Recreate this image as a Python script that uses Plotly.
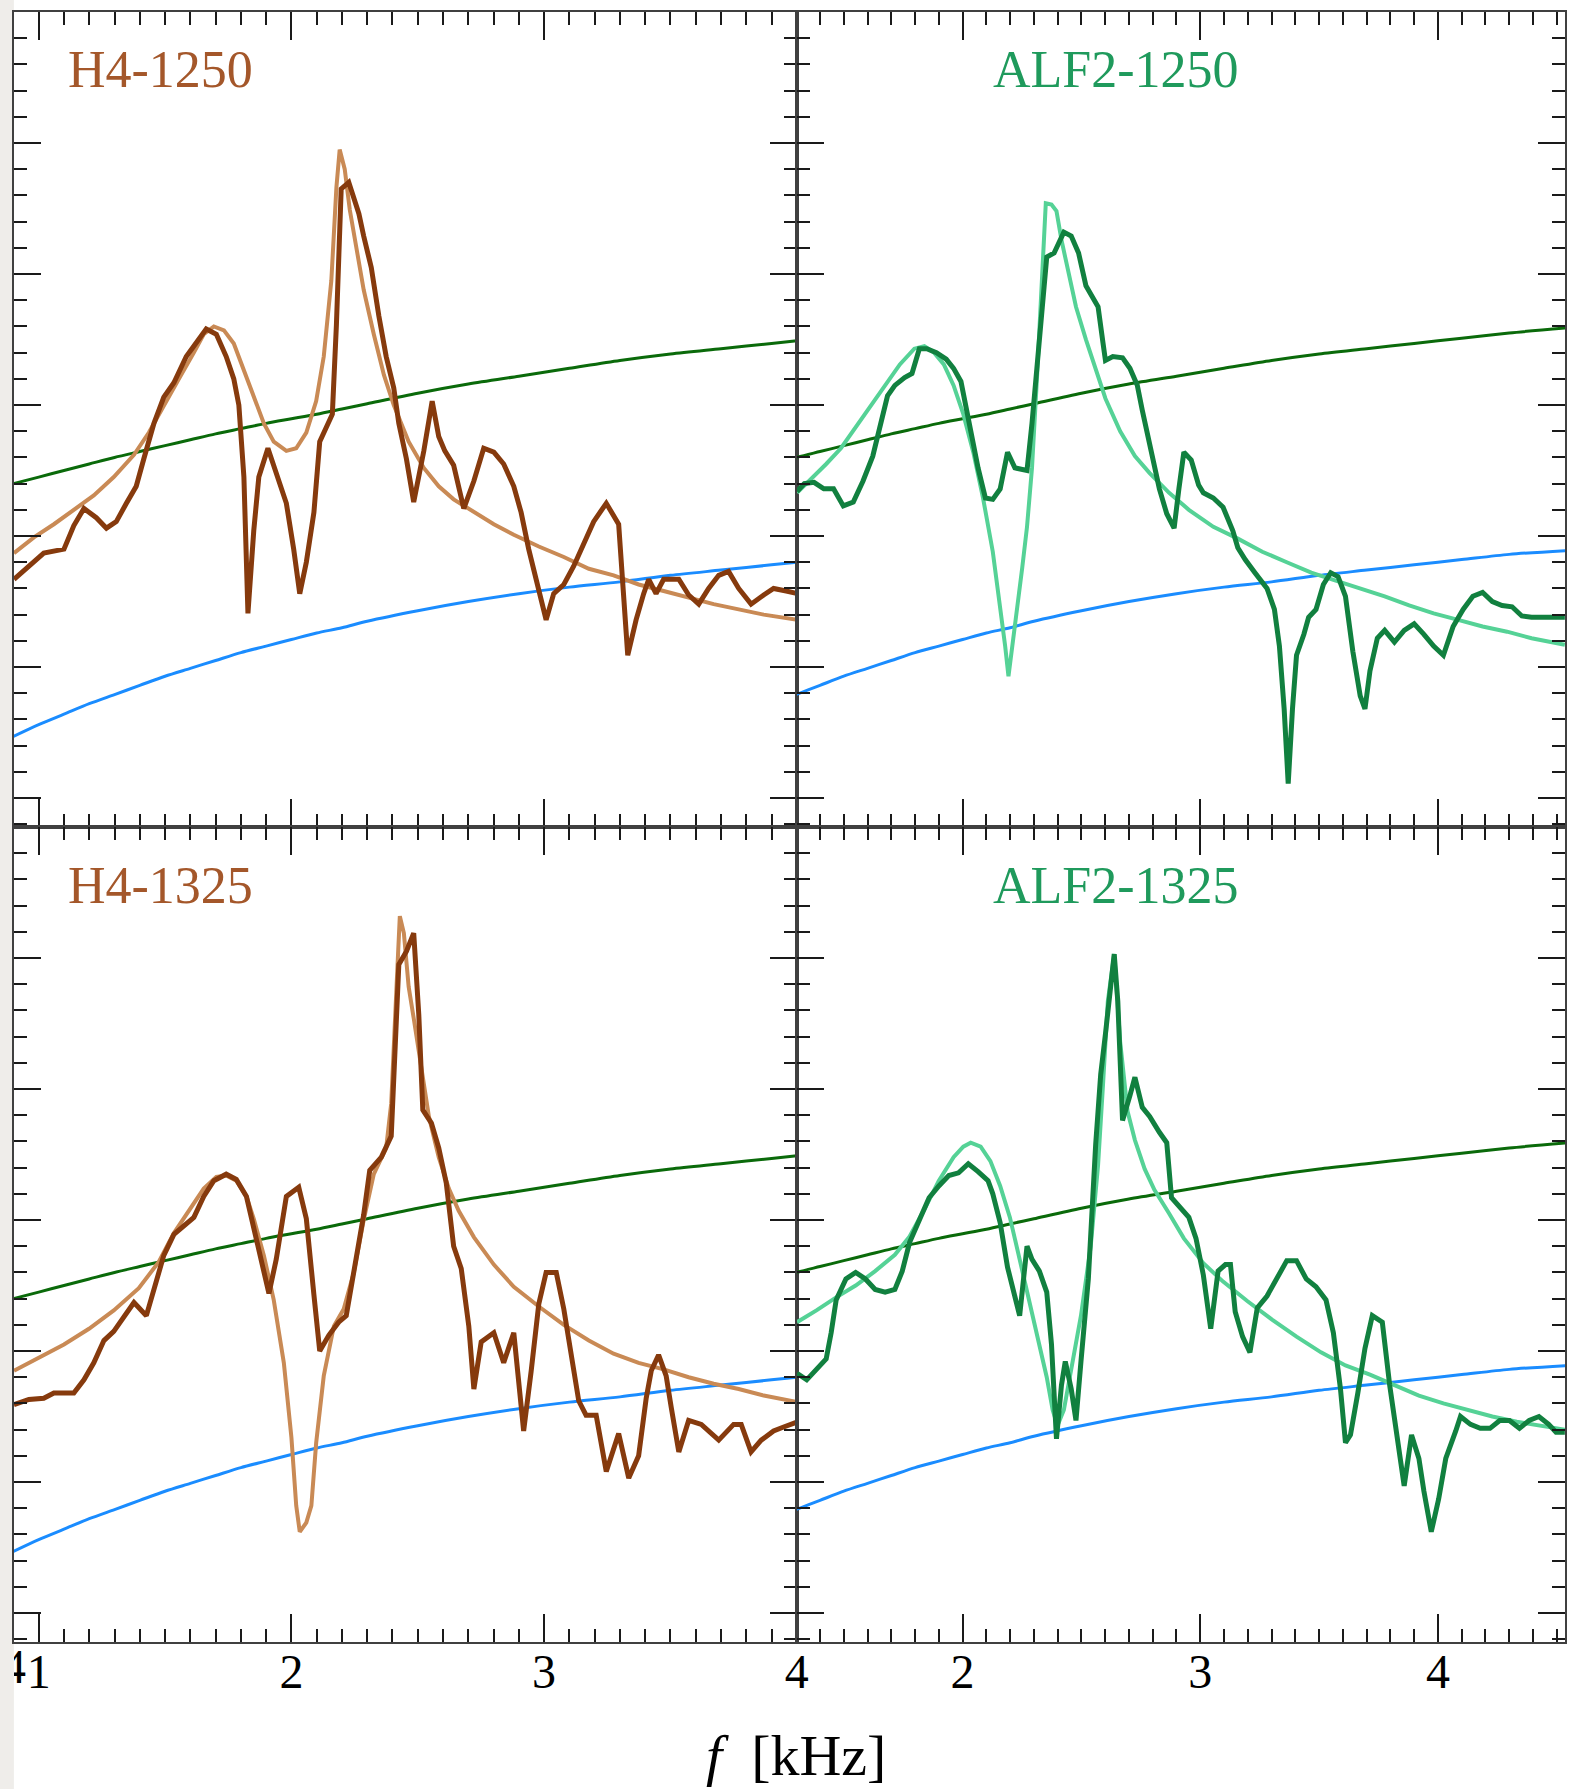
import plotly.graph_objects as go

FONT = "Liberation Serif"
W, H = 1577, 1789

# ---------------------------------------------------------------------------
# Reference curves shared by every panel (frequency in kHz, level in decades)
# ---------------------------------------------------------------------------
CURVE_F = [0.90, 1.00, 1.10, 1.20, 1.30, 1.40, 1.50, 1.60, 1.70, 1.80, 1.90, 2.00,
           2.10, 2.20, 2.30, 2.50, 2.70, 2.90, 3.10, 3.30, 3.50, 3.70, 3.90, 4.10,
           4.30, 4.55]
GREEN_LEVEL = [2.40, 2.45, 2.50, 2.55, 2.60, 2.645, 2.69, 2.735, 2.78, 2.82, 2.86, 2.895,
               2.93, 2.97, 3.01, 3.09, 3.16, 3.22, 3.28, 3.34, 3.39, 3.43, 3.47, 3.51,
               3.55, 3.59]
BLUE_LEVEL = [0.47, 0.56, 0.64, 0.72, 0.79, 0.86, 0.93, 0.99, 1.05, 1.11, 1.16, 1.21,
              1.26, 1.30, 1.35, 1.43, 1.50, 1.56, 1.61, 1.65, 1.70, 1.74, 1.78, 1.82,
              1.86, 1.89]

# ---------------------------------------------------------------------------
# H4-1250
# ---------------------------------------------------------------------------
H4_1250_F = [0.902, 0.961, 1.020, 1.100, 1.139, 1.179, 1.228, 1.268, 1.307, 1.347, 1.386,
             1.416, 1.456, 1.495, 1.535, 1.584, 1.624, 1.663, 1.703, 1.742, 1.772, 1.792,
             1.812, 1.828, 1.851, 1.871, 1.907, 1.940, 1.980, 2.009, 2.033, 2.059, 2.089,
             2.112, 2.148, 2.162, 2.178, 2.197, 2.227, 2.267, 2.286, 2.316, 2.346, 2.375,
             2.405, 2.425, 2.455, 2.484, 2.524, 2.557, 2.583, 2.607, 2.642, 2.682, 2.722,
             2.761, 2.801, 2.840, 2.880, 2.909, 2.939, 2.979, 3.008, 3.038, 3.078, 3.117,
             3.157, 3.196, 3.246, 3.295, 3.331, 3.364, 3.394, 3.414, 3.443, 3.473, 3.533,
             3.572, 3.612, 3.651, 3.691, 3.730, 3.770, 3.819, 3.869, 3.908, 3.958, 4.003]
H4_1250_PSD = [1.67, 1.77, 1.87, 1.90, 2.08, 2.21, 2.14, 2.06, 2.11, 2.25, 2.38,
               2.59, 2.86, 3.06, 3.17, 3.37, 3.47, 3.58, 3.54, 3.37, 3.20, 3.00,
               2.45, 1.41, 2.04, 2.45, 2.67, 2.48, 2.25, 1.90, 1.56, 1.80, 2.18,
               2.72, 2.86, 2.93, 3.61, 4.65, 4.70, 4.46, 4.29, 4.05, 3.68, 3.37,
               3.13, 2.86, 2.59, 2.26, 2.65, 3.03, 2.76, 2.65, 2.54, 2.21, 2.42,
               2.67, 2.64, 2.55, 2.38, 2.18, 1.90, 1.60, 1.36, 1.56, 1.63, 1.77,
               1.94, 2.11, 2.25, 2.09, 1.09, 1.36, 1.56, 1.67, 1.56, 1.67, 1.67,
               1.55, 1.48, 1.60, 1.70, 1.73, 1.60, 1.48, 1.55, 1.60, 1.58, 1.56]
H4_1250_FIT_F = [0.902, 0.981, 1.060, 1.139, 1.218, 1.297, 1.377, 1.436, 1.495, 1.555,
                 1.614, 1.653, 1.693, 1.733, 1.772, 1.812, 1.851, 1.891, 1.930, 1.980,
                 2.019, 2.059, 2.098, 2.128, 2.158, 2.178, 2.191, 2.211, 2.231, 2.257,
                 2.286, 2.326, 2.366, 2.405, 2.464, 2.524, 2.583, 2.642, 2.722, 2.801,
                 2.880, 2.979, 3.078, 3.177, 3.275, 3.374, 3.473, 3.572, 3.671, 3.770,
                 3.869, 4.003]
H4_1250_FIT = [1.87, 1.99, 2.09, 2.20, 2.31, 2.45, 2.62, 2.79, 3.00, 3.20,
               3.40, 3.54, 3.60, 3.57, 3.47, 3.27, 3.06, 2.86, 2.72, 2.65,
               2.67, 2.79, 3.03, 3.37, 3.95, 4.66, 4.95, 4.80, 4.49, 4.19,
               3.88, 3.54, 3.23, 3.00, 2.72, 2.52, 2.38, 2.28, 2.18, 2.09,
               2.01, 1.92, 1.84, 1.75, 1.70, 1.63, 1.58, 1.53, 1.48, 1.44,
               1.40, 1.36]

# ---------------------------------------------------------------------------
# ALF2-1250
# ---------------------------------------------------------------------------
ALF2_1250_F = [1.303, 1.334, 1.375, 1.416, 1.457, 1.498, 1.540, 1.581, 1.622, 1.653, 1.684,
               1.715, 1.756, 1.787, 1.818, 1.849, 1.890, 1.931, 1.962, 1.993, 2.014, 2.034,
               2.065, 2.096, 2.127, 2.158, 2.189, 2.220, 2.271, 2.292, 2.323, 2.354, 2.385,
               2.426, 2.457, 2.488, 2.519, 2.550, 2.570, 2.591, 2.601, 2.632, 2.673, 2.704,
               2.735, 2.756, 2.787, 2.828, 2.859, 2.890, 2.910, 2.931, 2.962, 2.993, 3.013,
               3.055, 3.096, 3.137, 3.158, 3.189, 3.230, 3.281, 3.312, 3.333, 3.353, 3.370,
               3.388, 3.405, 3.436, 3.456, 3.487, 3.518, 3.549, 3.580, 3.611, 3.642, 3.673,
               3.693, 3.714, 3.745, 3.776, 3.817, 3.858, 3.900, 3.941, 3.982, 4.023, 4.064,
               4.106, 4.147, 4.188, 4.229, 4.270, 4.312, 4.353, 4.394, 4.456, 4.534]
ALF2_1250_PSD = [2.34, 2.40, 2.41, 2.36, 2.36, 2.23, 2.26, 2.42, 2.61, 2.83, 3.07,
                 3.15, 3.21, 3.24, 3.43, 3.43, 3.40, 3.35, 3.28, 3.18, 2.99, 2.77,
                 2.52, 2.29, 2.28, 2.36, 2.64, 2.52, 2.50, 2.86, 3.53, 4.13, 4.16,
                 4.32, 4.29, 4.16, 3.91, 3.80, 3.75, 3.47, 3.34, 3.37, 3.36, 3.28,
                 3.15, 2.96, 2.71, 2.36, 2.17, 2.06, 2.36, 2.64, 2.58, 2.39, 2.33,
                 2.29, 2.22, 2.04, 1.91, 1.82, 1.72, 1.60, 1.44, 1.16, 0.68, 0.11,
                 0.68, 1.09, 1.25, 1.38, 1.44, 1.63, 1.72, 1.69, 1.54, 1.12, 0.78,
                 0.68, 0.97, 1.22, 1.28, 1.19, 1.28, 1.33, 1.25, 1.16, 1.09, 1.31,
                 1.44, 1.54, 1.57, 1.50, 1.47, 1.46, 1.39, 1.38, 1.38, 1.38]
ALF2_1250_FIT_F = [1.303, 1.365, 1.426, 1.488, 1.550, 1.612, 1.674, 1.736, 1.797, 1.839,
                   1.880, 1.921, 1.962, 2.003, 2.045, 2.086, 2.127, 2.158, 2.179, 2.193,
                   2.210, 2.230, 2.251, 2.271, 2.292, 2.313, 2.333, 2.350, 2.374, 2.395,
                   2.416, 2.447, 2.477, 2.519, 2.560, 2.601, 2.663, 2.725, 2.787, 2.869,
                   2.952, 3.055, 3.158, 3.261, 3.364, 3.467, 3.570, 3.673, 3.776, 3.879,
                   3.982, 4.085, 4.188, 4.291, 4.394, 4.534]
ALF2_1250_FIT = [2.33, 2.44, 2.55, 2.67, 2.83, 2.99, 3.15, 3.31, 3.43, 3.45,
                 3.40, 3.31, 3.15, 2.93, 2.64, 2.29, 1.88, 1.47, 1.16, 0.93,
                 1.16, 1.47, 1.76, 2.07, 2.52, 3.21, 4.00, 4.54, 4.53, 4.48,
                 4.26, 4.00, 3.75, 3.50, 3.28, 3.05, 2.80, 2.61, 2.48, 2.33,
                 2.20, 2.07, 1.98, 1.88, 1.80, 1.72, 1.66, 1.60, 1.54, 1.47,
                 1.41, 1.36, 1.31, 1.27, 1.22, 1.17]

# ---------------------------------------------------------------------------
# H4-1325
# ---------------------------------------------------------------------------
H4_1325_F = [0.902, 0.961, 1.020, 1.060, 1.139, 1.179, 1.218, 1.258, 1.297, 1.337, 1.377,
             1.426, 1.456, 1.495, 1.535, 1.574, 1.614, 1.653, 1.693, 1.742, 1.782, 1.822,
             1.851, 1.881, 1.911, 1.940, 1.980, 2.029, 2.059, 2.089, 2.112, 2.148, 2.187,
             2.217, 2.247, 2.286, 2.310, 2.356, 2.395, 2.425, 2.455, 2.484, 2.504, 2.520,
             2.554, 2.583, 2.613, 2.642, 2.672, 2.702, 2.722, 2.751, 2.801, 2.840, 2.880,
             2.919, 2.949, 2.979, 3.008, 3.048, 3.078, 3.107, 3.137, 3.166, 3.206, 3.246,
             3.295, 3.335, 3.374, 3.404, 3.424, 3.453, 3.483, 3.503, 3.533, 3.572, 3.622,
             3.691, 3.750, 3.780, 3.819, 3.859, 3.908, 3.948, 4.003]
H4_1325_PSD = [1.59, 1.63, 1.64, 1.68, 1.68, 1.78, 1.91, 2.08, 2.15, 2.26, 2.37,
               2.27, 2.46, 2.73, 2.89, 2.95, 3.02, 3.18, 3.30, 3.35, 3.31, 3.18,
               2.94, 2.70, 2.44, 2.70, 3.18, 3.25, 3.01, 2.43, 2.00, 2.12, 2.22,
               2.27, 2.60, 3.04, 3.38, 3.48, 3.64, 4.95, 5.05, 5.19, 4.57, 3.84,
               3.74, 3.55, 3.28, 2.80, 2.63, 2.19, 1.71, 2.07, 2.14, 1.91, 2.14,
               1.39, 1.85, 2.36, 2.60, 2.60, 2.32, 1.98, 1.62, 1.51, 1.51, 1.08,
               1.37, 1.03, 1.20, 1.64, 1.85, 1.97, 1.81, 1.57, 1.23, 1.47, 1.44,
               1.32, 1.44, 1.44, 1.23, 1.32, 1.39, 1.42, 1.46]
H4_1325_FIT_F = [0.902, 1.001, 1.100, 1.199, 1.297, 1.396, 1.475, 1.535, 1.594, 1.653,
                 1.703, 1.742, 1.782, 1.822, 1.851, 1.891, 1.930, 1.970, 2.000, 2.019,
                 2.033, 2.059, 2.079, 2.098, 2.128, 2.168, 2.207, 2.247, 2.286, 2.326,
                 2.375, 2.395, 2.415, 2.429, 2.445, 2.464, 2.484, 2.508, 2.544, 2.583,
                 2.623, 2.662, 2.722, 2.801, 2.880, 2.979, 3.078, 3.177, 3.275, 3.374,
                 3.473, 3.572, 3.671, 3.770, 3.869, 4.003]
H4_1325_FIT = [1.85, 1.95, 2.05, 2.17, 2.31, 2.48, 2.68, 2.90, 3.07, 3.24,
               3.33, 3.34, 3.30, 3.18, 3.01, 2.73, 2.39, 1.91, 1.34, 0.82,
               0.62, 0.69, 0.82, 1.30, 1.81, 2.19, 2.32, 2.60, 3.00, 3.35,
               3.55, 3.89, 4.74, 5.32, 5.19, 4.78, 4.54, 4.23, 3.79, 3.48,
               3.24, 3.07, 2.87, 2.66, 2.49, 2.34, 2.20, 2.08, 1.98, 1.91,
               1.86, 1.80, 1.75, 1.71, 1.66, 1.61]

# ---------------------------------------------------------------------------
# ALF2-1325
# ---------------------------------------------------------------------------
ALF2_1325_F = [1.303, 1.344, 1.385, 1.426, 1.447, 1.468, 1.509, 1.550, 1.591, 1.632, 1.674,
               1.715, 1.746, 1.777, 1.818, 1.859, 1.900, 1.942, 1.983, 2.024, 2.065, 2.107,
               2.127, 2.158, 2.189, 2.220, 2.240, 2.271, 2.292, 2.323, 2.354, 2.374, 2.395,
               2.416, 2.432, 2.457, 2.477, 2.498, 2.529, 2.560, 2.581, 2.601, 2.622, 2.638,
               2.653, 2.673, 2.704, 2.725, 2.756, 2.787, 2.828, 2.859, 2.879, 2.910, 2.952,
               2.982, 3.013, 3.044, 3.075, 3.106, 3.127, 3.147, 3.178, 3.209, 3.240, 3.281,
               3.322, 3.364, 3.405, 3.446, 3.487, 3.529, 3.560, 3.590, 3.611, 3.632, 3.663,
               3.693, 3.724, 3.766, 3.797, 3.827, 3.858, 3.889, 3.920, 3.941, 3.972, 4.003,
               4.033, 4.075, 4.095, 4.137, 4.178, 4.219, 4.260, 4.301, 4.343, 4.384, 4.425,
               4.466, 4.497, 4.534]
ALF2_1325_PSD = [1.83, 1.78, 1.86, 1.94, 2.14, 2.39, 2.55, 2.60, 2.55, 2.47, 2.45,
                 2.47, 2.61, 2.83, 3.00, 3.17, 3.26, 3.34, 3.36, 3.43, 3.37, 3.30,
                 3.20, 2.98, 2.64, 2.39, 2.27, 2.80, 2.70, 2.61, 2.45, 2.05, 1.33,
                 1.74, 1.92, 1.71, 1.47, 1.92, 2.55, 3.58, 4.11, 4.42, 4.76, 5.03,
                 4.67, 3.76, 3.95, 4.09, 3.86, 3.79, 3.67, 3.59, 3.17, 3.11, 3.02,
                 2.86, 2.58, 2.17, 2.61, 2.66, 2.66, 2.30, 2.11, 1.99, 2.33, 2.42,
                 2.55, 2.69, 2.69, 2.55, 2.49, 2.39, 2.14, 1.71, 1.30, 1.36, 1.68,
                 2.02, 2.27, 2.22, 1.74, 1.36, 0.97, 1.36, 1.18, 0.93, 0.62, 0.87,
                 1.18, 1.39, 1.50, 1.44, 1.41, 1.41, 1.47, 1.47, 1.41, 1.47, 1.50,
                 1.44, 1.38, 1.38]
ALF2_1325_FIT_F = [1.303, 1.385, 1.468, 1.550, 1.632, 1.715, 1.777, 1.839, 1.900, 1.962,
                   2.003, 2.034, 2.076, 2.117, 2.158, 2.199, 2.240, 2.271, 2.313, 2.354,
                   2.379, 2.399, 2.426, 2.457, 2.498, 2.539, 2.570, 2.591, 2.611, 2.638,
                   2.663, 2.694, 2.725, 2.766, 2.807, 2.869, 2.931, 3.013, 3.096, 3.199,
                   3.302, 3.405, 3.508, 3.611, 3.714, 3.817, 3.920, 4.023, 4.126, 4.229,
                   4.332, 4.435, 4.534]
ALF2_1325_FIT = [2.22, 2.31, 2.41, 2.50, 2.61, 2.735, 2.875, 3.08, 3.30, 3.48,
                 3.56, 3.59, 3.56, 3.45, 3.26, 3.02, 2.70, 2.45, 2.14, 1.80,
                 1.55, 1.43, 1.55, 1.86, 2.27, 2.80, 3.42, 4.04, 4.67, 5.03,
                 4.36, 3.83, 3.61, 3.39, 3.23, 3.05, 2.86, 2.67, 2.53, 2.38,
                 2.24, 2.11, 1.99, 1.89, 1.82, 1.74, 1.66, 1.60, 1.55, 1.50,
                 1.46, 1.43, 1.40]

# ---------------------------------------------------------------------------
# Styling
# ---------------------------------------------------------------------------
BROWN_DATA, BROWN_FIT, BROWN_TEXT = "#863a0d", "#c98a55", "#a4572a"
GREEN_DATA, GREEN_FIT, GREEN_TEXT = "#11803f", "#55d296", "#1f9a5c"
SENS_GREEN, SENS_BLUE = "#0a6a0a", "#1a8cff"

# figure-pixel layout of the 2x2 grid
X_LEFT, X_MID, X_RIGHT = 14, 803, 1577
Y_TOP, Y_MID, Y_BOT = 12, 827, 1642
TICK_LABEL_Y = 1671


def px_x(p):
    return p / W


def px_y(p):
    return (H - p) / H


panels = [
    # label, x-axis id, y-axis id, x domain px, y domain px, x range, freq/psd/fit, colours, show x labels
    ("H4-1250", "x", "y", (X_LEFT, X_MID), (Y_TOP, Y_MID), [0.9018, 4.0003],
     (H4_1250_F, H4_1250_PSD, H4_1250_FIT_F, H4_1250_FIT),
     (BROWN_DATA, BROWN_FIT, BROWN_TEXT), False),
    ("ALF2-1250", "x2", "y2", (X_MID, X_RIGHT), (Y_TOP, Y_MID), [1.3027, 4.5347],
     (ALF2_1250_F, ALF2_1250_PSD, ALF2_1250_FIT_F, ALF2_1250_FIT),
     (GREEN_DATA, GREEN_FIT, GREEN_TEXT), False),
    ("H4-1325", "x3", "y3", (X_LEFT, X_MID), (Y_MID, Y_BOT), [0.9018, 4.0003],
     (H4_1325_F, H4_1325_PSD, H4_1325_FIT_F, H4_1325_FIT),
     (BROWN_DATA, BROWN_FIT, BROWN_TEXT), True),
    ("ALF2-1325", "x4", "y4", (X_MID, X_RIGHT), (Y_MID, Y_BOT), [1.3027, 4.5347],
     (ALF2_1325_F, ALF2_1325_PSD, ALF2_1325_FIT_F, ALF2_1325_FIT),
     (GREEN_DATA, GREEN_FIT, GREEN_TEXT), True),
]

TICK_COLOR = "#1a1a1a"
LINE_COLOR = "#404040"

fig = go.Figure()
layout = dict(
    width=W, height=H, autosize=False,
    margin=dict(l=0, r=0, t=0, b=0, pad=0),
    paper_bgcolor="white", plot_bgcolor="white",
    showlegend=False,
    font=dict(family=FONT, color="black"),
    annotations=[], shapes=[],
)

for label, xa, ya, xdom, ydom, xr, series, colors, show_lbl in panels:
    f, psd, ff, fit = series
    c_data, c_fit, c_text = colors
    fig.add_trace(go.Scatter(x=CURVE_F, y=BLUE_LEVEL, xaxis=xa, yaxis=ya, mode="lines",
                             line=dict(color=SENS_BLUE, width=3, shape="spline", smoothing=0.8),
                             hoverinfo="skip"))
    fig.add_trace(go.Scatter(x=CURVE_F, y=GREEN_LEVEL, xaxis=xa, yaxis=ya, mode="lines",
                             line=dict(color=SENS_GREEN, width=3, shape="spline", smoothing=0.8),
                             hoverinfo="skip"))
    fig.add_trace(go.Scatter(x=ff, y=fit, xaxis=xa, yaxis=ya, mode="lines",
                             line=dict(color=c_fit, width=4)))
    fig.add_trace(go.Scatter(x=f, y=psd, xaxis=xa, yaxis=ya, mode="lines",
                             line=dict(color=c_data, width=5)))

    xkey = "xaxis" if xa == "x" else "xaxis" + xa[1:]
    ykey = "yaxis" if ya == "y" else "yaxis" + ya[1:]
    common = dict(
        ticks="inside", tickwidth=2, tickcolor=TICK_COLOR,
        showline=True, linecolor=LINE_COLOR, linewidth=2, mirror="allticks",
        showgrid=False, zeroline=False, fixedrange=True,
    )
    layout[xkey] = dict(
        domain=[px_x(xdom[0]), px_x(xdom[1])], range=xr, anchor=ya,
        tickmode="linear", tick0=0, dtick=1, ticklen=28,
        minor=dict(tick0=0, dtick=0.1, ticks="inside", ticklen=13, tickwidth=2,
                   tickcolor=TICK_COLOR, showgrid=False),
        showticklabels=show_lbl, ticklabelstandoff=-14,
        tickfont=dict(family=FONT, size=48, color="black"),
        **common,
    )
    layout[ykey] = dict(
        domain=[px_y(ydom[1]), px_y(ydom[0])], range=[-0.221, 6.0], anchor=xa,
        tickmode="linear", tick0=0, dtick=1, ticklen=27,
        minor=dict(tick0=0, dtick=0.2, ticks="inside", ticklen=13, tickwidth=2,
                   tickcolor=TICK_COLOR, showgrid=False),
        showticklabels=False,
        **common,
    )
    layout["annotations"].append(dict(
        text=label, xref="paper", yref="paper",
        x=px_x(xdom[0] + (53 if xdom[0] == X_LEFT else 196)),
        y=px_y(ydom[0] + 58), xanchor="left", yanchor="middle", showarrow=False,
        font=dict(family=FONT, size=52, color=c_text),
    ))

# frequency axis title shared by the bottom row
layout["annotations"].append(dict(
    text="<i>f</i>\u00a0 [kHz]", xref="paper", yref="paper", x=px_x(802), y=px_y(1755),
    xanchor="center", yanchor="middle", showarrow=False,
    font=dict(family=FONT, size=58, color="black"),
))

# neighbouring panel edge: the tail of its "4" label, clipped at the strip
layout["xaxis5"] = dict(domain=[px_x(X_LEFT), px_x(120)], range=[0, 1], visible=False,
                        anchor="y5", fixedrange=True)
layout["yaxis5"] = dict(domain=[0, px_y(Y_BOT)], range=[0, 1], visible=False,
                        anchor="x5", fixedrange=True)
fig.add_trace(go.Scatter(x=[0], y=[(H - TICK_LABEL_Y) / (H - Y_BOT)], xaxis="x5", yaxis="y5",
                         mode="text", text=["4"], cliponaxis=True,
                         textfont=dict(family=FONT, size=48, color="black"),
                         hoverinfo="skip"))

# page background strip along the left edge
layout["shapes"].append(dict(type="rect", xref="paper", yref="paper", x0=0, x1=px_x(X_LEFT),
                             y0=0, y1=1, fillcolor="#efedea", line=dict(width=0),
                             layer="below"))

fig.update_layout(**layout)
fig.write_html("out.html")
